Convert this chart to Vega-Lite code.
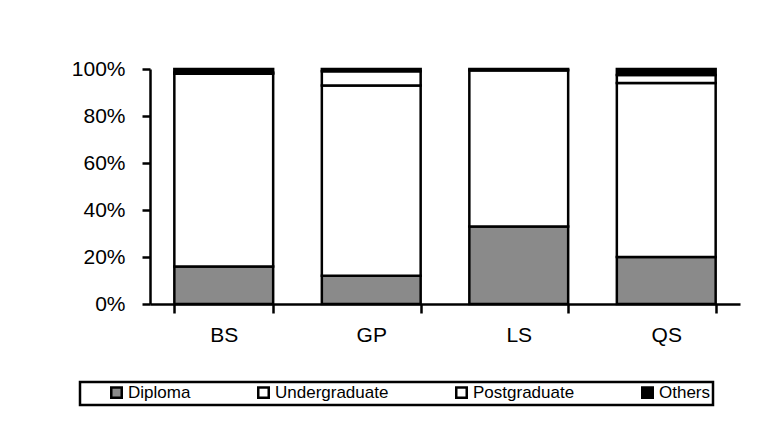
{
  "$schema": "https://vega.github.io/schema/vega-lite/v6.json",
  "width": 590,
  "height": 235,
  "autosize": {"type": "none"},
  "padding": {"left": 150, "top": 69, "right": 20, "bottom": 127},
  "background": "white",
  "config": {
    "view": {"stroke": null},
    "font": "Liberation Sans",
    "axis": {"grid": false, "domainColor": "black", "tickColor": "black", "labelColor": "black", "domainWidth": 2.5, "tickWidth": 2.5}
  },
  "data": {
    "values": [
      {"site": "BS", "level": "Diploma", "ord": 1, "pct": 16},
      {"site": "BS", "level": "Undergraduate", "ord": 2, "pct": 82},
      {"site": "BS", "level": "Postgraduate", "ord": 3, "pct": 0.5},
      {"site": "BS", "level": "Others", "ord": 4, "pct": 1.5},
      {"site": "GP", "level": "Diploma", "ord": 1, "pct": 12},
      {"site": "GP", "level": "Undergraduate", "ord": 2, "pct": 81},
      {"site": "GP", "level": "Postgraduate", "ord": 3, "pct": 6},
      {"site": "GP", "level": "Others", "ord": 4, "pct": 1},
      {"site": "LS", "level": "Diploma", "ord": 1, "pct": 33},
      {"site": "LS", "level": "Undergraduate", "ord": 2, "pct": 66.5},
      {"site": "LS", "level": "Postgraduate", "ord": 3, "pct": 0},
      {"site": "LS", "level": "Others", "ord": 4, "pct": 0.5},
      {"site": "QS", "level": "Diploma", "ord": 1, "pct": 20},
      {"site": "QS", "level": "Undergraduate", "ord": 2, "pct": 74},
      {"site": "QS", "level": "Postgraduate", "ord": 3, "pct": 3.5},
      {"site": "QS", "level": "Others", "ord": 4, "pct": 2.5}
    ]
  },
  "mark": {"type": "bar", "stroke": "black", "strokeWidth": 2.5},
  "encoding": {
    "x": {
      "field": "site", "type": "nominal", "title": null,
      "scale": {"paddingInner": 0.33, "paddingOuter": 0.165},
      "axis": {"labelAngle": 0, "labelFontSize": 21, "labelPadding": 11, "tickBand": "extent", "tickSize": 9}
    },
    "y": {
      "field": "pct", "type": "quantitative", "stack": "normalize", "title": null,
      "scale": {"domain": [0, 1], "nice": false},
      "axis": {"format": ".0%", "values": [0, 0.2, 0.4, 0.6, 0.8, 1], "labelFontSize": 21, "labelPadding": 17, "tickSize": 8}
    },
    "order": {"field": "ord", "type": "quantitative"},
    "color": {
      "field": "level", "type": "nominal", "title": null,
      "sort": ["Diploma", "Undergraduate", "Postgraduate", "Others"],
      "scale": {"domain": ["Diploma", "Undergraduate", "Postgraduate", "Others"], "range": ["#8a8a8a", "white", "white", "black"]},
      "legend": {
        "orient": "none", "direction": "horizontal", "legendX": -70, "legendY": 313,
        "columns": 4, "columnPadding": 38,
        "strokeColor": "black", "padding": 2,
        "symbolType": "square", "symbolSize": 110, "symbolOffset": 26, "symbolStrokeColor": "black", "symbolStrokeWidth": 2.5, "symbolOpacity": 1,
        "labelFontSize": 17, "labelColor": "black", "labelOffset": 3,
        "encode": {"legend": {"update": {"strokeWidth": {"value": 2.5}}}}
      }
    }
  }
}
